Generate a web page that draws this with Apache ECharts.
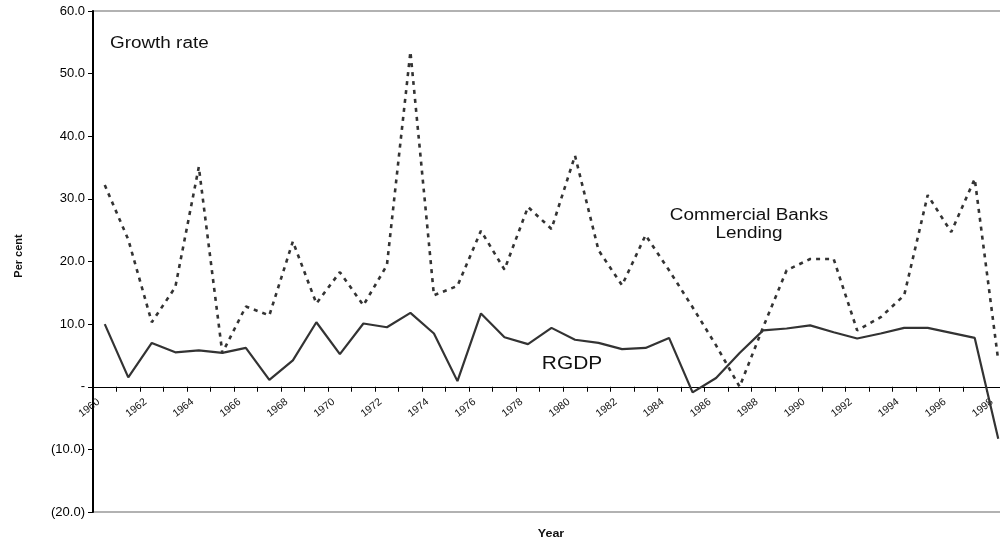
<!DOCTYPE html>
<html>
<head>
<meta charset="utf-8">
<script src="https://cdn.jsdelivr.net/npm/echarts@6/dist/echarts.min.js"></script>
<style>html,body{margin:0;padding:0;background:#fff}#c{width:1000px;height:542px}</style>
</head>
<body>
<div id="c"></div>
<script>
var years = [];
for (var y = 1960; y <= 1998; y++) years.push(String(y));

var lending = [32.2, 23.5, 10.3, 15.9, 35.1, 5.4, 12.8, 11.4, 23.2, 13.3,
  18.3, 13.0, 19.4, 53.5, 14.6, 16.1, 24.9, 18.7, 28.7, 25.2,
  36.9, 21.8, 16.2, 24.2, 18.6, 12.7, 6.6, 0.0, 9.5, 18.6,
  20.4, 20.4, 9.0, 11.1, 14.6, 30.6, 24.7, 33.2, 4.2];

var rgdp = [10.0, 1.5, 7.0, 5.5, 5.8, 5.4, 6.2, 1.1, 4.2, 10.3,
  5.2, 10.1, 9.5, 11.8, 8.5, 0.9, 11.7, 7.9, 6.8, 9.4,
  7.5, 7.0, 6.0, 6.2, 7.8, -0.9, 1.4, 5.4, 9.0, 9.3,
  9.8, 8.7, 7.7, 8.5, 9.4, 9.4, 8.6, 7.8, -8.3];

var yTicks = {min: -20, max: 60, step: 10};

var GRID_TOP = 11, GRID_H = 501;
var zeroOffset = -GRID_H * (0 - yTicks.min) / (yTicks.max - yTicks.min);

var chart = echarts.init(document.getElementById('c'), null, {renderer: 'canvas'});
var FONT = 'Liberation Sans, Arial, sans-serif';
chart.setOption({
  animation: false,
  backgroundColor: '#fff',
  grid: {left: 93, top: GRID_TOP, width: 917, height: GRID_H, show: true,
         outerBoundsMode: 'none', containLabel: false,
         borderColor: '#999', borderWidth: 1.5, backgroundColor: 'transparent'},
  xAxis: {
    type: 'category', data: years, boundaryGap: true, position: 'bottom', offset: zeroOffset,
    axisLine: {onZero: false, lineStyle: {color: '#000', width: 1.2}},
    axisTick: {show: true, interval: 0, length: 5, lineStyle: {color: '#000'}},
    axisLabel: {interval: 1, rotate: 38, fontSize: 10.5, color: '#111', fontFamily: FONT, margin: 9,
                padding: [0, 8, 0, 0]},
    splitLine: {show: false}
  },
  yAxis: {
    type: 'value', min: yTicks.min, max: yTicks.max, interval: yTicks.step,
    axisLine: {show: true, onZero: false, lineStyle: {color: '#000', width: 2}},
    axisTick: {show: true, length: 5, lineStyle: {color: '#000'}},
    axisLabel: {fontSize: 13, color: '#000', fontFamily: FONT, margin: 8,
      formatter: function (v) {
        if (v === 0) return '-';
        if (v < 0) return '(' + Math.abs(v).toFixed(1) + ')';
        return v.toFixed(1);
      }},
    splitLine: {show: false}
  },
  series: [
    {name: 'Commercial Banks Lending', type: 'line', data: lending, symbol: 'none',
     lineStyle: {color: '#333', width: 2.6, type: [4, 5]}},
    {name: 'RGDP', type: 'line', data: rgdp, symbol: 'none',
     lineStyle: {color: '#333', width: 2.2, type: 'solid'}}
  ],
  graphic: [
    {type: 'text', x: 110, y: 52, scaleX: 1.18, style: {text: 'Growth rate', font: '16px ' + FONT, fill: '#111', textAlign: 'left', textVerticalAlign: 'bottom'}},
    {type: 'text', x: 749, y: 224, scaleX: 1.18, style: {text: 'Commercial Banks', font: '16px ' + FONT, fill: '#111', textAlign: 'center', textVerticalAlign: 'bottom'}},
    {type: 'text', x: 749, y: 242, scaleX: 1.18, style: {text: 'Lending', font: '16px ' + FONT, fill: '#111', textAlign: 'center', textVerticalAlign: 'bottom'}},
    {type: 'text', x: 572, y: 373, scaleX: 1.16, style: {text: 'RGDP', font: '18px ' + FONT, fill: '#111', textAlign: 'center', textVerticalAlign: 'bottom'}},
    {type: 'text', x: 19, y: 256, rotation: Math.PI / 2, style: {text: 'Per cent', font: 'bold 11px ' + FONT, fill: '#111', textAlign: 'center', textVerticalAlign: 'middle'}},
    {type: 'text', x: 551, y: 534, scaleX: 1.25, style: {text: 'Year', font: 'bold 10px ' + FONT, fill: '#111', textAlign: 'center', textVerticalAlign: 'middle'}}
  ]
});
</script>
</body>
</html>
